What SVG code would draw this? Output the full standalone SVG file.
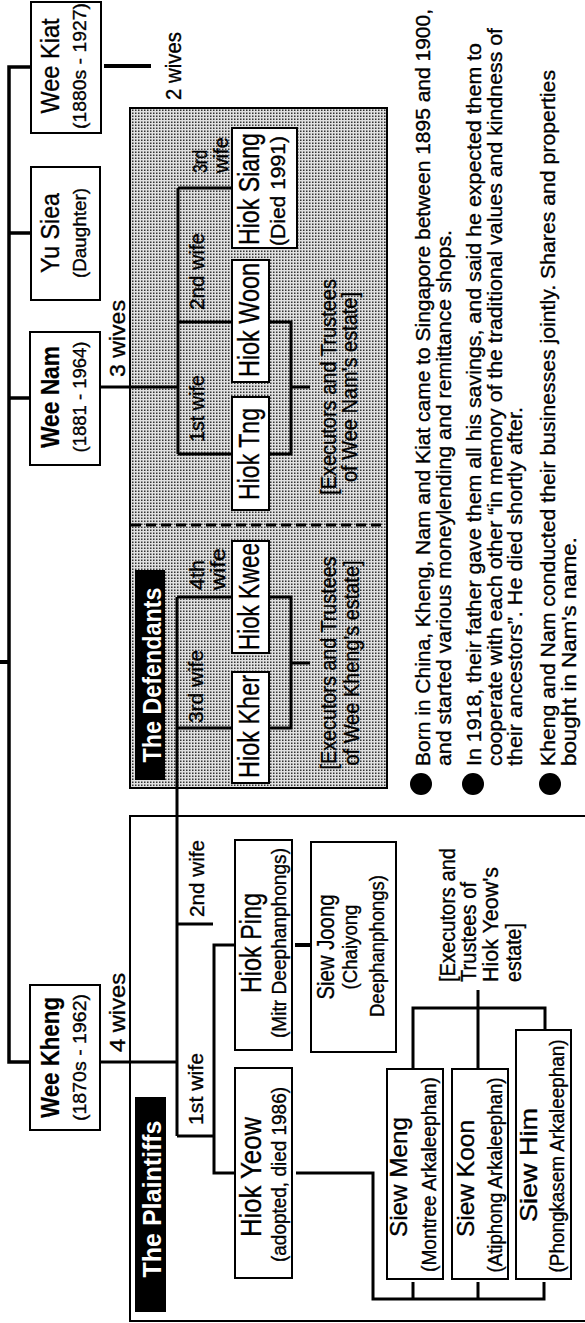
<svg xmlns="http://www.w3.org/2000/svg" width="585" height="1323" viewBox="0 0 585 1323">
<style>
text{font-family:"Liberation Sans",Arial,Helvetica,sans-serif;fill:#000;stroke:#000;stroke-width:0.35}
.ln{fill:none;stroke:#000;stroke-width:3}
.bx{fill:#fff;stroke:#000;stroke-width:2}
.c{text-anchor:middle}
.sn{font-size:25px}
.b{font-weight:bold;stroke-width:0.2}
.ss{font-size:19px}
.cn{font-size:30px}
.gn{font-size:24px}
.cs{font-size:20px}
.wl{font-size:21px}
.nw{font-size:22px}
.ex{font-size:22px}
.tg{font-size:26px;font-weight:bold;fill:#fff;stroke:none}
.bu{font-size:21px}
</style>
<defs>
<pattern id="ht" width="3" height="3" patternUnits="userSpaceOnUse"><rect width="3" height="3" fill="#e0e0e0"/><rect width="1.5" height="1.5" fill="#333"/></pattern>
</defs>
<rect width="585" height="1323" fill="#fff"/>
<g transform="matrix(0,-1,1,0,0,1323)">
<g id="defendants-panel">
<rect x="535" y="130" width="680" height="257" fill="url(#ht)" stroke="#000" stroke-width="2"/>
<path d="M798,131V386" stroke="#000" stroke-width="3" stroke-dasharray="10 5"/>
<rect x="543" y="135" width="210" height="30" fill="#000"/>
<text class="tg c" x="648" y="161" textLength="175" lengthAdjust="spacingAndGlyphs">The Defendants</text>
</g>
<g id="plaintiffs-panel">
<path d="M507,590V130H2V590" fill="none" stroke="#000" stroke-width="2"/>
<rect x="11" y="135" width="215" height="31" fill="#000"/>
<text class="tg c" x="124" y="161" textLength="157" lengthAdjust="spacingAndGlyphs">The Plaintiffs</text>
</g>
<g id="connectors" class="ln">
<path d="M261,30V9H1256V31" stroke-width="3.5"/>
<path d="M925,9V30M1090,9V31" stroke-width="3.5"/>
<path d="M661,0V9" stroke-width="4"/>
<path d="M1257,104V151" stroke-width="4"/>
<path d="M936,100V178M869,178H1135M1135,178V232M1001,178V232M869,178V232"/>
<path d="M1001,270V291H869V270M936,291V310"/>
<path d="M261,100V177M187,177H726M726,177V232M595,177V232M399,177V213M187,177V214"/>
<path d="M726,270V291H595V270M660,291V310"/>
<path d="M378,235V214H150V235"/>
<path d="M378,295V311" stroke-width="4"/>
<path d="M150,296V373H24V544H41M24,413H41M24,478H41"/>
<path d="M254,413H315V545H293M254,478H333"/>
</g>
<g id="labels">
<text class="nw c" x="1257" y="181" textLength="68" lengthAdjust="spacingAndGlyphs">2 wives</text>
<text class="nw" x="946" y="125" textLength="77" lengthAdjust="spacingAndGlyphs">3 wives</text>
<text class="nw" x="271" y="125" textLength="79" lengthAdjust="spacingAndGlyphs">4 wives</text>
<text class="wl" x="1150" y="207" textLength="23" lengthAdjust="spacingAndGlyphs">3rd</text>
<text class="wl" x="1150" y="228" textLength="36" lengthAdjust="spacingAndGlyphs">wife</text>
<text class="wl" x="1013" y="204" textLength="77" lengthAdjust="spacingAndGlyphs">2nd wife</text>
<text class="wl" x="881" y="204" textLength="67" lengthAdjust="spacingAndGlyphs">1st wife</text>
<text class="wl" x="733" y="204" textLength="30" lengthAdjust="spacingAndGlyphs">4th</text>
<text class="wl" x="733" y="225" textLength="42" lengthAdjust="spacingAndGlyphs">wife</text>
<text class="wl" x="600" y="203" textLength="73" lengthAdjust="spacingAndGlyphs">3rd wife</text>
<text class="wl" x="406" y="204" textLength="77" lengthAdjust="spacingAndGlyphs">2nd wife</text>
<text class="wl" x="198" y="203" textLength="72" lengthAdjust="spacingAndGlyphs">1st wife</text>
<text class="ex c" x="936" y="336" textLength="216" lengthAdjust="spacingAndGlyphs">[Executors and Trustees</text>
<text class="ex c" x="936" y="357" textLength="190" lengthAdjust="spacingAndGlyphs">of Wee Nam's estate]</text>
<text class="ex c" x="660" y="336" textLength="213" lengthAdjust="spacingAndGlyphs">[Executors and Trustees</text>
<text class="ex c" x="660" y="359" textLength="205" lengthAdjust="spacingAndGlyphs">of Wee Kheng's estate]</text>
<text class="ex" x="341" y="455" textLength="134" lengthAdjust="spacingAndGlyphs">[Executors and</text>
<text class="ex" x="341" y="476" textLength="100" lengthAdjust="spacingAndGlyphs">Trustees of</text>
<text class="ex" x="341" y="498" textLength="115" lengthAdjust="spacingAndGlyphs">Hiok Yeow's</text>
<text class="ex" x="341" y="521" textLength="59" lengthAdjust="spacingAndGlyphs">estate]</text>
</g>
<g id="wee-kheng">
<rect class="bx" x="193" y="30" width="145" height="70"/>
<text class="sn b c" x="265.5" y="59" textLength="121" lengthAdjust="spacingAndGlyphs">Wee Kheng</text>
<text class="ss c" x="265.5" y="86" textLength="127" lengthAdjust="spacingAndGlyphs">(1870s - 1962)</text>
</g>
<g id="wee-nam">
<rect class="bx" x="858" y="30" width="133" height="70"/>
<text class="sn b c" x="926" y="59" textLength="102" lengthAdjust="spacingAndGlyphs">Wee Nam</text>
<text class="ss c" x="926" y="86" textLength="111" lengthAdjust="spacingAndGlyphs">(1881 - 1964)</text>
</g>
<g id="yu-siea">
<rect class="bx" x="1023" y="31" width="133" height="69"/>
<text class="sn c" x="1090" y="59" textLength="80" lengthAdjust="spacingAndGlyphs">Yu Siea</text>
<text class="ss c" x="1090" y="86" textLength="90" lengthAdjust="spacingAndGlyphs">(Daughter)</text>
</g>
<g id="wee-kiat">
<rect class="bx" x="1190" y="31" width="131" height="70"/>
<text class="sn c" x="1257" y="59" textLength="95" lengthAdjust="spacingAndGlyphs">Wee Kiat</text>
<text class="ss c" x="1257" y="86" textLength="126" lengthAdjust="spacingAndGlyphs">(1880s - 1927)</text>
</g>
<g id="hiok-siang">
<rect class="bx" x="1075" y="232" width="120" height="65"/>
<text class="cn c" x="1134" y="259" textLength="112" lengthAdjust="spacingAndGlyphs">Hiok Siang</text>
<text class="cs c" x="1132" y="285" textLength="110" lengthAdjust="spacingAndGlyphs">(Died 1991)</text>
</g>
<g id="hiok-woon">
<rect class="bx" x="941" y="232" width="122" height="37"/>
<text class="cn c" x="1003" y="259" textLength="114" lengthAdjust="spacingAndGlyphs">Hiok Woon</text>
</g>
<g id="hiok-tng">
<rect class="bx" x="813" y="232" width="113" height="37"/>
<text class="cn c" x="869" y="259" textLength="92" lengthAdjust="spacingAndGlyphs">Hiok Tng</text>
</g>
<g id="hiok-kwee">
<rect class="bx" x="670" y="232" width="112" height="37"/>
<text class="cn c" x="726.5" y="259" textLength="107" lengthAdjust="spacingAndGlyphs">Hiok Kwee</text>
</g>
<g id="hiok-kher">
<rect class="bx" x="540" y="232" width="111" height="37"/>
<text class="cn c" x="596.5" y="259" textLength="103" lengthAdjust="spacingAndGlyphs">Hiok Kher</text>
</g>
<g id="hiok-ping">
<rect class="bx" x="273" y="235" width="210" height="57"/>
<text class="cn c" x="380" y="261" textLength="100" lengthAdjust="spacingAndGlyphs">Hiok Ping</text>
<text class="cs c" x="380" y="286" textLength="190" lengthAdjust="spacingAndGlyphs">(Mitr Deephanphongs)</text>
</g>
<g id="hiok-yeow">
<rect class="bx" x="45" y="235" width="210" height="57"/>
<text class="cn c" x="146" y="261" textLength="120" lengthAdjust="spacingAndGlyphs">Hiok Yeow</text>
<text class="cs c" x="148.5" y="286" textLength="175" lengthAdjust="spacingAndGlyphs">(adopted, died 1986)</text>
</g>
<g id="siew-joong">
<rect class="bx" x="271" y="311" width="210" height="85"/>
<text class="gn c" x="376" y="334" textLength="105" lengthAdjust="spacingAndGlyphs">Siew Joong</text>
<text class="cs c" x="376" y="357" textLength="85" lengthAdjust="spacingAndGlyphs">(Chaiyong</text>
<text class="cs c" x="377" y="384" textLength="142" lengthAdjust="spacingAndGlyphs">Deephanphongs)</text>
</g>
<g id="siew-meng">
<rect class="bx" x="44" y="387" width="210" height="56"/>
<text class="gn c" x="146" y="407" textLength="120" lengthAdjust="spacingAndGlyphs">Siew Meng</text>
<text class="cs c" x="148.5" y="436" textLength="195" lengthAdjust="spacingAndGlyphs">(Montree Arkaleephan)</text>
</g>
<g id="siew-koon">
<rect class="bx" x="44" y="452" width="210" height="56"/>
<text class="gn c" x="144.5" y="474" textLength="117" lengthAdjust="spacingAndGlyphs">Siew Koon</text>
<text class="cs c" x="148" y="502" textLength="195" lengthAdjust="spacingAndGlyphs">(Atiphong Arkaleephan)</text>
</g>
<g id="siew-him">
<rect class="bx" x="44" y="516" width="249" height="55"/>
<text class="gn c" x="158" y="537" textLength="114" lengthAdjust="spacingAndGlyphs">Siew Him</text>
<text class="cs c" x="167" y="564" textLength="233" lengthAdjust="spacingAndGlyphs">(Phongkasem Arkaleephan)</text>
</g>
<g id="notes">
<circle cx="539" cy="421" r="11"/>
<circle cx="539" cy="473" r="11"/>
<circle cx="539" cy="550" r="11"/>
<text class="bu" x="557" y="430" textLength="757" lengthAdjust="spacingAndGlyphs">Born in China, Kheng, Nam and Kiat came to Singapore between 1895 and 1900,</text>
<text class="bu" x="557" y="451" textLength="536" lengthAdjust="spacingAndGlyphs">and started various moneylending and remittance shops.</text>
<text class="bu" x="557" y="481" textLength="723" lengthAdjust="spacingAndGlyphs">In 1918, their father gave them all his savings, and said he expected them to</text>
<text class="bu" x="557" y="502" textLength="738" lengthAdjust="spacingAndGlyphs">cooperate with each other “in memory of the traditional values and kindness of</text>
<text class="bu" x="557" y="522" textLength="359" lengthAdjust="spacingAndGlyphs">their ancestors”. He died shortly after.</text>
<text class="bu" x="557" y="555" textLength="696" lengthAdjust="spacingAndGlyphs">Kheng and Nam conducted their businesses jointly. Shares and properties</text>
<text class="bu" x="557" y="576" textLength="229" lengthAdjust="spacingAndGlyphs">bought in Nam's name.</text>
</g>
</g>
</svg>
